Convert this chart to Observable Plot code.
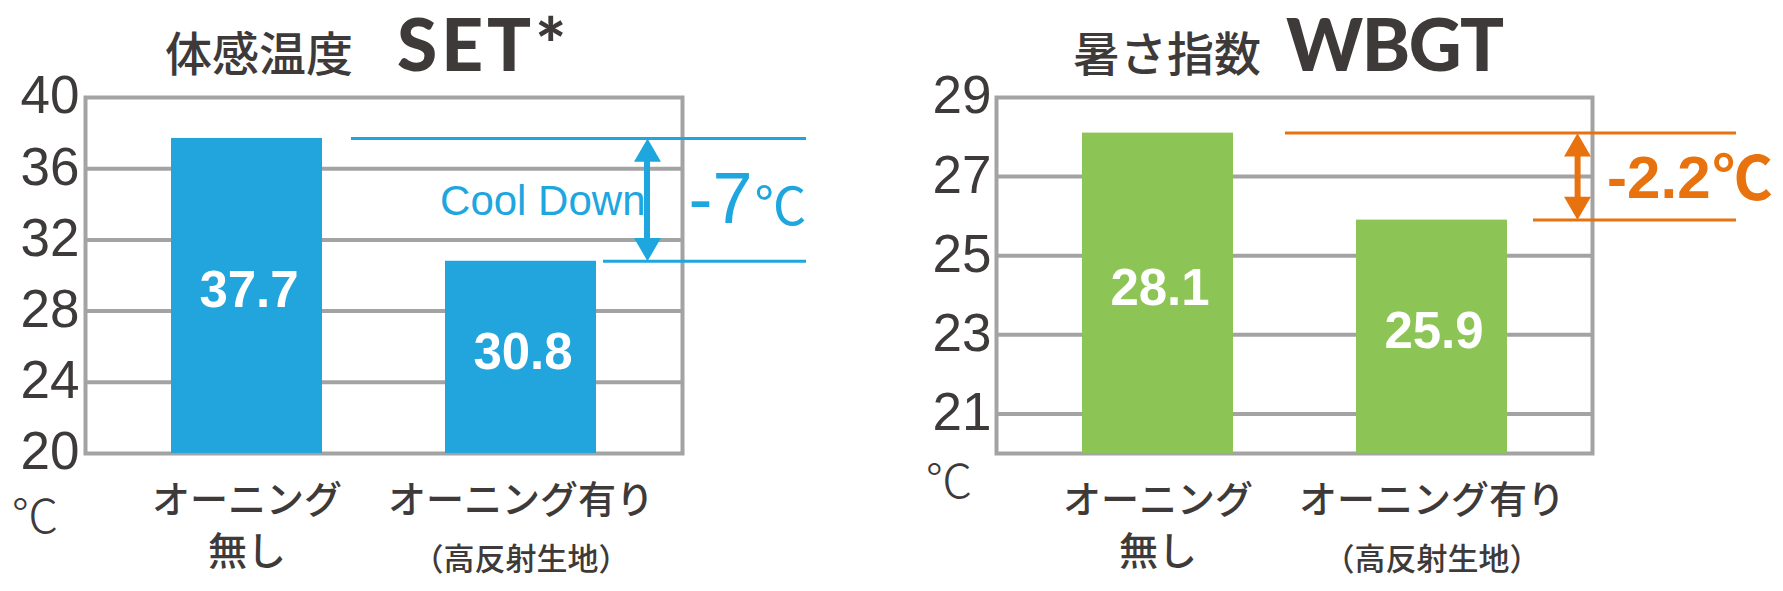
<!DOCTYPE html>
<html>
<head>
<meta charset="utf-8">
<script src="https://cdn.jsdelivr.net/npm/d3@7"></script>
<script src="https://cdn.jsdelivr.net/npm/@observablehq/plot@0.6"></script>
<style>
  html, body { margin: 0; padding: 0; background: #fff; }
  #page { position: relative; width: 1783px; height: 591px; overflow: hidden; background: #fff; }
  .chart { position: absolute; top: 0; }
  .title { position: absolute; top: 7px; display: flex; align-items: baseline; white-space: nowrap; color: #3e3a39; }
  .title .jp { font-family: "Noto Sans CJK JP"; font-weight: 500; font-size: 47px; line-height: 1; }
  .title .en { font-family: "Lato"; font-weight: 900; font-size: 73px; line-height: 1; letter-spacing: 4px; }
  g[aria-label="value-label"] text { letter-spacing: 5px; }
</style>
</head>
<body>
<div id="page">
  <div class="title" style="left:165px"><span class="jp">体感温度</span><span class="en" style="margin-left:44px">SET*</span></div>
  <div class="title" style="left:1073px"><span class="jp">暑さ指数</span><span class="en" style="margin-left:25px; letter-spacing:-1.5px">WBGT</span></div>
  <div id="left" class="chart" style="left:0px"></div>
  <div id="right" class="chart" style="left:891px"></div>
</div>
<script>
// ---- data ----
const categories = ["オーニング無し", "オーニング有り"];
const labelLine1 = ["オーニング", "オーニング有り"];
const labelLine2 = ["無し", "（高反射生地）"];
const setValues = [37.7, 30.8];
const wbgtValues = [28.1, 25.9];
const setDomain = [20, 40];
const wbgtDomain = [20, 29];
const setTicks = [20, 24, 28, 32, 36, 40];
const wbgtTicks = [21, 23, 25, 27, 29];
const setDelta = "-7";
const wbgtDelta = "-2.2";
const coolDownText = "Cool Down";
const unitLabel = "℃";

const DARK = "#3e3a39";
const GRID = "#a3a3a3";

function chart(cfg) {
  const rows = categories.map((c, i) => ({cat: c, value: cfg.values[i], l1: labelLine1[i], l2: labelLine2[i]}));
  const ann = [{a: cfg.values[0], b: cfg.values[1], mid: (cfg.values[0] + cfg.values[1]) / 2, delta: cfg.delta, cat: categories[1]}];
  const lo = cfg.domain[0];
  const gridTicks = cfg.ticks.filter(t => t > cfg.domain[0] && t < cfg.domain[1]);
  const marks = [
    Plot.ruleY(gridTicks, {stroke: GRID, strokeWidth: 4}),
    Plot.frame({stroke: GRID, strokeWidth: 4}),
    Plot.barY(rows, {x: "cat", y1: lo, y2: "value", fill: cfg.barColor}),
    Plot.text(rows, {x: "cat", y: d => (d.value + lo) / 2, text: d => d.value.toFixed(1), fill: "white",
      fontSize: 51, fontWeight: "bold", fontFamily: "Liberation Sans", dy: -5, dx: 2, ariaLabel: "value-label"}),
    Plot.axisY({ticks: cfg.ticks, tickSize: 0, tickPadding: cfg.tickPadding, fontSize: 53, fontFamily: "Liberation Sans", fill: DARK, dy: -1}),
    // category labels
    Plot.text(rows, {x: "cat", text: "l1", frameAnchor: "bottom", dy: 59, fontSize: 38, fontWeight: 500, fontFamily: "Noto Sans CJK JP", fill: DARK}),
    Plot.text(rows.slice(0, 1), {x: "cat", text: "l2", frameAnchor: "bottom", dy: 111, fontSize: 39, fontWeight: 500, fontFamily: "Noto Sans CJK JP", fill: DARK}),
    Plot.text(rows.slice(1), {x: "cat", text: "l2", frameAnchor: "bottom", dy: 116, fontSize: 31, fontWeight: 500, fontFamily: "Noto Sans CJK JP", fill: DARK}),
    // unit
    Plot.text([unitLabel], {text: d => d, frameAnchor: "bottom-left", dx: cfg.unitDx, dy: cfg.unitDy, fontSize: 47, fontWeight: 300, fontFamily: "Noto Sans CJK JP", fill: DARK}),
    // difference annotation
    Plot.ruleY(ann, {y: "a", stroke: cfg.annColor, strokeWidth: 3, insetLeft: cfg.topInsetLeft, insetRight: cfg.lineInsetRight}),
    Plot.ruleY(ann, {y: "b", stroke: cfg.annColor, strokeWidth: 3, insetLeft: cfg.botInsetLeft, insetRight: cfg.lineInsetRight}),
    Plot.ruleX(ann, {x: "cat", y1: "a", y2: "b", stroke: cfg.annColor, strokeWidth: 6, dx: cfg.arrowDxBand, insetTop: 14, insetBottom: 14}),
    Plot.dot(ann, {y: "a", frameAnchor: "right", dx: cfg.arrowDxRight, dy: 15.6, symbol: "triangle", r: 10, fill: cfg.annColor, stroke: "none"}),
    Plot.dot(ann, {y: "b", frameAnchor: "right", dx: cfg.arrowDxRight, dy: -15.6, symbol: "triangle", rotate: 180, r: 10, fill: cfg.annColor, stroke: "none"}),
    Plot.text(ann, {y: "mid", text: "delta", frameAnchor: "right", dx: cfg.deltaDx, dy: cfg.deltaDy, textAnchor: "end", lineAnchor: "bottom",
      fontSize: cfg.deltaSize, fontWeight: cfg.deltaWeight, fontFamily: "Liberation Sans", fill: cfg.annColor}),
    Plot.text(ann, {y: "mid", text: () => unitLabel, frameAnchor: "right", dx: cfg.deltaDx + 2, dy: cfg.deltaDy + 2, textAnchor: "start", lineAnchor: "bottom",
      fontSize: cfg.unitSize, fontWeight: cfg.deltaWeight, fontFamily: "Noto Sans CJK JP", fill: cfg.annColor})
  ];
  if (cfg.coolDown) {
    marks.push(Plot.text(ann, {y: "mid", text: () => coolDownText, frameAnchor: "right", dx: -37, dy: 2, textAnchor: "end",
      fontSize: 42, fontFamily: "Liberation Sans", fill: cfg.annColor}));
  }
  return Plot.plot({
    width: cfg.width,
    height: 591,
    marginLeft: cfg.marginLeft,
    marginRight: cfg.marginRight,
    marginTop: 97,
    marginBottom: 138,
    x: {domain: categories, paddingInner: 0.449, paddingOuter: 0.31, axis: null},
    y: {domain: cfg.domain, axis: null},
    style: {background: "transparent", overflow: "visible", fontFamily: "Liberation Sans", color: DARK},
    marks
  });
}

document.getElementById("left").append(chart({
  width: 891, marginLeft: 85, marginRight: 209,
  values: setValues, domain: setDomain, ticks: setTicks, tickPadding: 6,
  barColor: "#22a5dc", annColor: "#1ea6df",
  delta: setDelta, deltaSize: 72, deltaWeight: "normal", unitSize: 52, deltaDx: 70, deltaDy: 23,
  topInsetLeft: 266, botInsetLeft: 518, lineInsetRight: -124,
  arrowDxBand: 126, arrowDxRight: -35,
  unitDx: -74, unitDy: 79, coolDown: true
}));

document.getElementById("right").append(chart({
  width: 892, marginLeft: 105, marginRight: 191,
  values: wbgtValues, domain: wbgtDomain, ticks: wbgtTicks, tickPadding: 5,
  barColor: "#8cc556", annColor: "#e8720e",
  delta: wbgtDelta, deltaSize: 60, deltaWeight: "bold", unitSize: 60, deltaDx: 118, deltaDy: 21.6,
  topInsetLeft: 289, botInsetLeft: 537, lineInsetRight: -144,
  arrowDxBand: 145.6, arrowDxRight: -15,
  unitDx: -71, unitDy: 44, coolDown: false
}));
</script>
</body>
</html>
